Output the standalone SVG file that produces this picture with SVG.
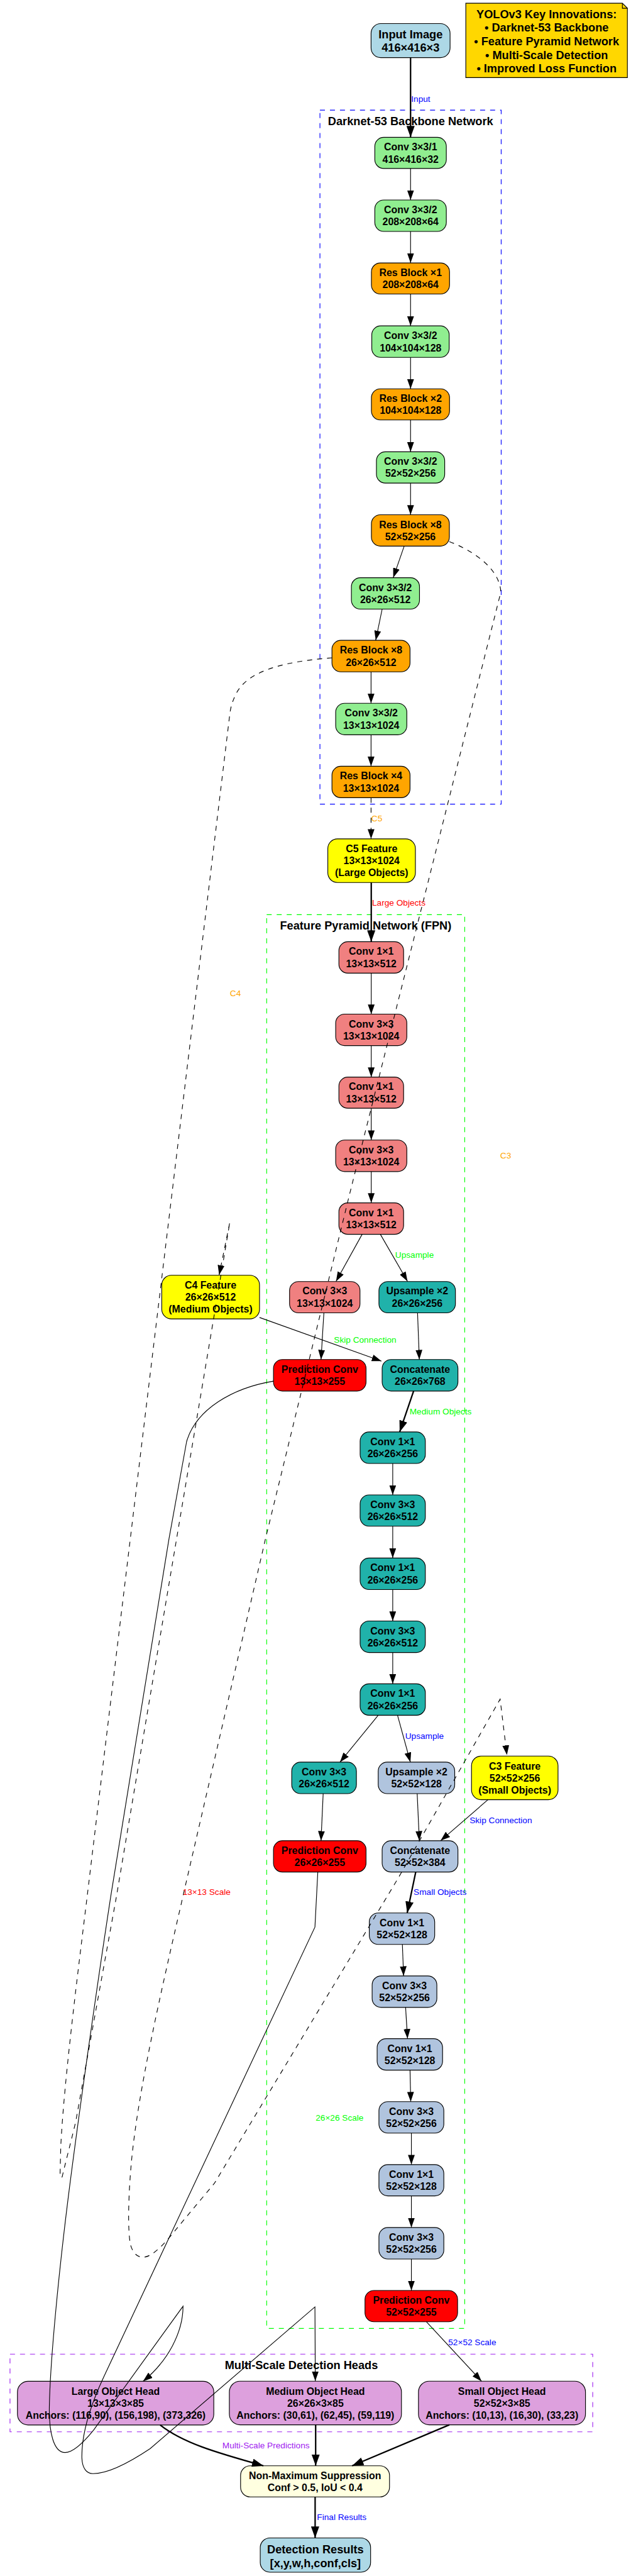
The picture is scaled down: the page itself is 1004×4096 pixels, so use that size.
<svg xmlns="http://www.w3.org/2000/svg" width="1004" height="4096" viewBox="0 0 1004 4096">
<style>
.n{stroke:#000;stroke-width:2}
.t{font-family:"Liberation Sans",Arial,sans-serif;font-weight:bold;font-size:28px;text-anchor:middle;fill:#000}
.tl{font-size:32px}
.e{fill:none;stroke:#000;stroke-width:2}
.eb{stroke-width:4}
.ed{stroke-dasharray:14 14}
.l{font-family:"Liberation Sans",Arial,sans-serif;font-size:24px;text-anchor:middle}
.cl{fill:none;stroke-width:2;stroke-dasharray:14 14}
.green{fill:#90EE90}.orange{fill:#FFA500}.yellow{fill:#FFFF00}.coral{fill:#F08080}.teal{fill:#20B2AA}.steel{fill:#B0C4DE}.red{fill:#FF0000}.plum{fill:#DDA0DD}.lblue{fill:#ADD8E6}
</style>
<defs>
<marker id="a" viewBox="0 0 27 19" refX="27" refY="9.5" markerWidth="27" markerHeight="19" markerUnits="userSpaceOnUse" orient="auto"><path d="M0,0 L27,9.5 L0,19 z" fill="#000"/></marker>
<marker id="ab" viewBox="0 0 32 23" refX="32" refY="11.5" markerWidth="32" markerHeight="23" markerUnits="userSpaceOnUse" orient="auto"><path d="M0,0 L32,11.5 L0,23 z" fill="#000"/></marker>
</defs>
<rect width="1004" height="4096" fill="#fff"/>
<g transform="scale(0.5688)">
<g id="clusters">
<rect class="cl" x="895" y="308" width="507" height="1940" stroke="#0000FF"/>
<text class="t tl" x="1148.5" y="349">Darknet-53 Backbone Network</text>
<rect class="cl" x="746" y="2557" width="554" height="3952" stroke="#00FF00"/>
<text class="t tl" x="1023" y="2598">Feature Pyramid Network (FPN)</text>
<rect class="cl" x="28" y="6581" width="1630" height="217" stroke="#A020F0"/>
<text class="t tl" x="843" y="6622">Multi-Scale Detection Heads</text>
</g>
<g id="note">
<path class="n" d="M1303,9 L1741,9 L1755,23 L1755,217 L1303,217 Z" fill="#FFD700"/>
<path class="n" d="M1741,9 L1741,23 L1755,23" fill="none"/>
<text class="t tl"><tspan x="1529" y="51.5">YOLOv3 Key Innovations:</tspan><tspan x="1529" y="88.5">• Darknet-53 Backbone</tspan><tspan x="1529" y="126.5">• Feature Pyramid Network</tspan><tspan x="1529" y="164.5">• Multi-Scale Detection</tspan><tspan x="1529" y="201.5">• Improved Loss Function</tspan></text>
</g>
<g id="input"><rect class="n lblue" x="1038" y="66" width="221" height="95" rx="27"/><text class="t tl"><tspan x="1148.5" y="108">Input Image</tspan><tspan x="1148.5" y="145">416×416×3</tspan></text></g>
<g id="conv1"><rect class="n green" x="1048.5" y="384" width="200" height="87" rx="25"/><text class="t"><tspan x="1148.5" y="420.5">Conv 3×3/1</tspan><tspan x="1148.5" y="454.5">416×416×32</tspan></text></g>
<g id="conv2"><rect class="n green" x="1048.5" y="559" width="200" height="88" rx="25"/><text class="t"><tspan x="1148.5" y="596">Conv 3×3/2</tspan><tspan x="1148.5" y="630">208×208×64</tspan></text></g>
<g id="res1"><rect class="n orange" x="1039" y="735" width="218.5" height="87" rx="25"/><text class="t"><tspan x="1148.5" y="771.5">Res Block ×1</tspan><tspan x="1148.5" y="805.5">208×208×64</tspan></text></g>
<g id="conv3"><rect class="n green" x="1040" y="911" width="216.5" height="88" rx="25"/><text class="t"><tspan x="1148.5" y="948">Conv 3×3/2</tspan><tspan x="1148.5" y="982">104×104×128</tspan></text></g>
<g id="res2"><rect class="n orange" x="1039" y="1087" width="218.5" height="87" rx="25"/><text class="t"><tspan x="1148.5" y="1123.5">Res Block ×2</tspan><tspan x="1148.5" y="1157.5">104×104×128</tspan></text></g>
<g id="conv4"><rect class="n green" x="1053" y="1263" width="191" height="87.5" rx="25"/><text class="t"><tspan x="1148.5" y="1299.5">Conv 3×3/2</tspan><tspan x="1148.5" y="1333.5">52×52×256</tspan></text></g>
<g id="res8a"><rect class="n orange" x="1039" y="1439" width="218" height="87.6" rx="25"/><text class="t"><tspan x="1148" y="1476">Res Block ×8</tspan><tspan x="1148" y="1510">52×52×256</tspan></text></g>
<g id="conv5"><rect class="n green" x="983" y="1615" width="190.5" height="87.7" rx="25"/><text class="t"><tspan x="1078" y="1652">Conv 3×3/2</tspan><tspan x="1078" y="1686">26×26×512</tspan></text></g>
<g id="res8b"><rect class="n orange" x="928.6" y="1790" width="218.4" height="88" rx="25"/><text class="t"><tspan x="1038" y="1827">Res Block ×8</tspan><tspan x="1038" y="1861">26×26×512</tspan></text></g>
<g id="conv6"><rect class="n green" x="939" y="1966" width="199" height="88" rx="25"/><text class="t"><tspan x="1038.5" y="2003">Conv 3×3/2</tspan><tspan x="1038.5" y="2037">13×13×1024</tspan></text></g>
<g id="res4"><rect class="n orange" x="928.6" y="2142" width="218.4" height="88" rx="25"/><text class="t"><tspan x="1038" y="2179">Res Block ×4</tspan><tspan x="1038" y="2213">13×13×1024</tspan></text></g>
<g id="c5"><rect class="n yellow" x="917" y="2345" width="245" height="122" rx="27"/><text class="t"><tspan x="1039.5" y="2382.5">C5 Feature</tspan><tspan x="1039.5" y="2416">13×13×1024</tspan><tspan x="1039.5" y="2449.5">(Large Objects)</tspan></text></g>
<g id="f1"><rect class="n coral" x="948" y="2632.5" width="181" height="88" rx="25"/><text class="t"><tspan x="1038.5" y="2669.5">Conv 1×1</tspan><tspan x="1038.5" y="2703.5">13×13×512</tspan></text></g>
<g id="f2"><rect class="n coral" x="939" y="2835" width="199" height="88" rx="25"/><text class="t"><tspan x="1038.5" y="2872">Conv 3×3</tspan><tspan x="1038.5" y="2906">13×13×1024</tspan></text></g>
<g id="f3"><rect class="n coral" x="948" y="3011" width="181" height="87" rx="25"/><text class="t"><tspan x="1038.5" y="3047.5">Conv 1×1</tspan><tspan x="1038.5" y="3081.5">13×13×512</tspan></text></g>
<g id="f4"><rect class="n coral" x="939" y="3187" width="199" height="88" rx="25"/><text class="t"><tspan x="1038.5" y="3224">Conv 3×3</tspan><tspan x="1038.5" y="3258">13×13×1024</tspan></text></g>
<g id="f5"><rect class="n coral" x="948" y="3362.5" width="181" height="88" rx="25"/><text class="t"><tspan x="1038.5" y="3399.5">Conv 1×1</tspan><tspan x="1038.5" y="3433.5">13×13×512</tspan></text></g>
<g id="f6"><rect class="n coral" x="810" y="3582.5" width="197" height="87.5" rx="25"/><text class="t"><tspan x="908.5" y="3619">Conv 3×3</tspan><tspan x="908.5" y="3653">13×13×1024</tspan></text></g>
<g id="up26"><rect class="n teal" x="1060" y="3582.5" width="214" height="87.5" rx="25"/><text class="t"><tspan x="1167" y="3619">Upsample ×2</tspan><tspan x="1167" y="3653">26×26×256</tspan></text></g>
<g id="c4"><rect class="n yellow" x="452.5" y="3565" width="273.5" height="122" rx="27"/><text class="t"><tspan x="589" y="3602.5">C4 Feature</tspan><tspan x="589" y="3636">26×26×512</tspan><tspan x="589" y="3669.5">(Medium Objects)</tspan></text></g>
<g id="pred13"><rect class="n red" x="765" y="3800.6" width="259" height="88" rx="25"/><text class="t"><tspan x="894.5" y="3837.6">Prediction Conv</tspan><tspan x="894.5" y="3871.6">13×13×255</tspan></text></g>
<g id="cat26"><rect class="n teal" x="1069" y="3800.6" width="212" height="88" rx="25"/><text class="t"><tspan x="1175" y="3837.6">Concatenate</tspan><tspan x="1175" y="3871.6">26×26×768</tspan></text></g>
<g id="m1"><rect class="n teal" x="1007.4" y="4003" width="182.4" height="88" rx="25"/><text class="t"><tspan x="1098.6" y="4040">Conv 1×1</tspan><tspan x="1098.6" y="4074">26×26×256</tspan></text></g>
<g id="m2"><rect class="n teal" x="1007.4" y="4179" width="182.4" height="87.5" rx="25"/><text class="t"><tspan x="1098.6" y="4215.7">Conv 3×3</tspan><tspan x="1098.6" y="4249.7">26×26×512</tspan></text></g>
<g id="m3"><rect class="n teal" x="1007.4" y="4355.5" width="182.4" height="88" rx="25"/><text class="t"><tspan x="1098.6" y="4392.5">Conv 1×1</tspan><tspan x="1098.6" y="4426.5">26×26×256</tspan></text></g>
<g id="m4"><rect class="n teal" x="1007.4" y="4531.5" width="182.4" height="88" rx="25"/><text class="t"><tspan x="1098.6" y="4568.5">Conv 3×3</tspan><tspan x="1098.6" y="4602.5">26×26×512</tspan></text></g>
<g id="m5"><rect class="n teal" x="1007.4" y="4707" width="182.4" height="88" rx="25"/><text class="t"><tspan x="1098.6" y="4744">Conv 1×1</tspan><tspan x="1098.6" y="4778">26×26×256</tspan></text></g>
<g id="m6"><rect class="n teal" x="816" y="4926" width="181" height="88" rx="25"/><text class="t"><tspan x="906.5" y="4963">Conv 3×3</tspan><tspan x="906.5" y="4997">26×26×512</tspan></text></g>
<g id="up52"><rect class="n steel" x="1058" y="4926" width="214" height="88" rx="25"/><text class="t"><tspan x="1165" y="4963">Upsample ×2</tspan><tspan x="1165" y="4997">52×52×128</tspan></text></g>
<g id="c3"><rect class="n yellow" x="1319" y="4909" width="242" height="122" rx="27"/><text class="t"><tspan x="1440" y="4946.5">C3 Feature</tspan><tspan x="1440" y="4980">52×52×256</tspan><tspan x="1440" y="5013.5">(Small Objects)</tspan></text></g>
<g id="pred26"><rect class="n red" x="765" y="5145.7" width="259" height="87.5" rx="25"/><text class="t"><tspan x="894.5" y="5182.5">Prediction Conv</tspan><tspan x="894.5" y="5216.5">26×26×255</tspan></text></g>
<g id="cat52"><rect class="n steel" x="1069" y="5145.7" width="212" height="87.5" rx="25"/><text class="t"><tspan x="1175" y="5182.5">Concatenate</tspan><tspan x="1175" y="5216.5">52×52×384</tspan></text></g>
<g id="s1"><rect class="n steel" x="1033" y="5347.6" width="183" height="88" rx="25"/><text class="t"><tspan x="1124.5" y="5384.6">Conv 1×1</tspan><tspan x="1124.5" y="5418.6">52×52×128</tspan></text></g>
<g id="s2"><rect class="n steel" x="1041" y="5523.6" width="181" height="88" rx="25"/><text class="t"><tspan x="1131.5" y="5560.6">Conv 3×3</tspan><tspan x="1131.5" y="5594.6">52×52×256</tspan></text></g>
<g id="s3"><rect class="n steel" x="1055" y="5699" width="183" height="88" rx="25"/><text class="t"><tspan x="1146.5" y="5736">Conv 1×1</tspan><tspan x="1146.5" y="5770">52×52×128</tspan></text></g>
<g id="s4"><rect class="n steel" x="1060" y="5875" width="181.5" height="88" rx="25"/><text class="t"><tspan x="1150.75" y="5912">Conv 3×3</tspan><tspan x="1150.75" y="5946">52×52×256</tspan></text></g>
<g id="s5"><rect class="n steel" x="1060" y="6051" width="181.5" height="87.5" rx="25"/><text class="t"><tspan x="1150.75" y="6087.7">Conv 1×1</tspan><tspan x="1150.75" y="6121.7">52×52×128</tspan></text></g>
<g id="s6"><rect class="n steel" x="1060" y="6227" width="181.5" height="88" rx="25"/><text class="t"><tspan x="1150.75" y="6264">Conv 3×3</tspan><tspan x="1150.75" y="6298">52×52×256</tspan></text></g>
<g id="pred52"><rect class="n red" x="1021" y="6403" width="259" height="87.5" rx="25"/><text class="t"><tspan x="1150.5" y="6439.7">Prediction Conv</tspan><tspan x="1150.5" y="6473.7">52×52×255</tspan></text></g>
<g id="large"><rect class="n plum" x="48.8" y="6656.7" width="549.2" height="122.3" rx="30"/><text class="t"><tspan x="323.4" y="6694.5">Large Object Head</tspan><tspan x="323.4" y="6728">13×13×3×85</tspan><tspan x="323.4" y="6761.5">Anchors: (116,90), (156,198), (373,326)</tspan></text></g>
<g id="medium"><rect class="n plum" x="641.6" y="6656.6" width="481.4" height="122" rx="30"/><text class="t"><tspan x="882.3" y="6694.5">Medium Object Head</tspan><tspan x="882.3" y="6728">26×26×3×85</tspan><tspan x="882.3" y="6761.5">Anchors: (30,61), (62,45), (59,119)</tspan></text></g>
<g id="small"><rect class="n plum" x="1170.6" y="6656.6" width="467.2" height="122" rx="30"/><text class="t"><tspan x="1404.2" y="6694.5">Small Object Head</tspan><tspan x="1404.2" y="6728">52×52×3×85</tspan><tspan x="1404.2" y="6761.5">Anchors: (10,13), (16,30), (33,23)</tspan></text></g>
<g id="nms"><rect class="n" fill="#FFFFE0" x="673" y="6893" width="416.6" height="87" rx="27"/><text class="t"><tspan x="881.3" y="6930.7">Non-Maximum Suppression</tspan><tspan x="881.3" y="6964.5">Conf &gt; 0.5, IoU &lt; 0.4</tspan></text></g>
<g id="results"><rect class="n lblue" x="728" y="7094.8" width="308.7" height="95.7" rx="27"/><text class="t tl"><tspan x="882.3" y="7137.5">Detection Results</tspan><tspan x="882.3" y="7176">[x,y,w,h,conf,cls]</tspan></text></g>
<g id="connectors">
<path class="e eb" marker-end="url(#ab)" d="M1148.5,161 L1148.5,384"/>
<path class="e" marker-end="url(#a)" d="M1148.5,471 L1148.5,559"/>
<path class="e" marker-end="url(#a)" d="M1148.5,647 L1148.5,735"/>
<path class="e" marker-end="url(#a)" d="M1148.5,822 L1148.5,911"/>
<path class="e" marker-end="url(#a)" d="M1148.5,999 L1148.5,1087"/>
<path class="e" marker-end="url(#a)" d="M1148.5,1174 L1148.5,1263"/>
<path class="e" marker-end="url(#a)" d="M1148.5,1350.5 L1148.5,1439"/>
<path class="e" marker-end="url(#a)" d="M1130.6,1526.6 L1100,1615"/>
<path class="e" marker-end="url(#a)" d="M1069,1702.7 L1051,1790"/>
<path class="e" marker-end="url(#a)" d="M1038,1878 L1038,1966"/>
<path class="e" marker-end="url(#a)" d="M1038,2054 L1038,2142"/>
<path class="e ed" marker-end="url(#a)" d="M1038,2230 L1038,2345"/>
<path class="e ed" marker-end="url(#a)" d="M929,1839 C780,1850 690,1880 660,1940 C648,1965 645,1980 643,1995 L250,5250 C225,5460 180,5800 170,6000 L168,6080 Q170,6092 174,6085 C182,6050 198,5990 212,5930 L326,5300 L643,3416 L613,3564"/>
<path class="e ed" marker-end="url(#a)" d="M1257,1514 C1325,1540 1398,1590 1401,1655 L1214,2400 L975,3350 L743,4300 L512,5300 C450,5570 385,5850 367,6050 C360,6130 356,6230 365,6275 C372,6300 385,6310 400,6310 C430,6310 470,6260 500,6223 L600,6103 L1114,5250 L1399,4750 L1418,4906"/>
<path class="e eb" marker-end="url(#ab)" d="M1038.5,2467 L1038.5,2632.5"/>
<path class="e" marker-end="url(#a)" d="M1038.5,2720.5 L1038.5,2835"/>
<path class="e" marker-end="url(#a)" d="M1038.5,2923 L1038.5,3011"/>
<path class="e" marker-end="url(#a)" d="M1038.5,3098 L1038.5,3187"/>
<path class="e" marker-end="url(#a)" d="M1038.5,3275 L1038.5,3362.5"/>
<path class="e" marker-end="url(#a)" d="M1013,3450.5 L940,3582"/>
<path class="e" marker-end="url(#a)" d="M1064,3450.5 L1140,3582"/>
<path class="e" marker-end="url(#a)" d="M906,3670 L898,3800.6"/>
<path class="e" marker-end="url(#a)" d="M1168,3670 L1173,3800.6"/>
<path class="e" marker-end="url(#a)" d="M726,3683 L1067,3805"/>
<path class="e eb" marker-end="url(#ab)" d="M1157,3888.6 L1118,4003"/>
<path class="e" marker-end="url(#a)" d="M1098.6,4091 L1098.6,4179"/>
<path class="e" marker-end="url(#a)" d="M1098.6,4266.5 L1098.6,4355.5"/>
<path class="e" marker-end="url(#a)" d="M1098.6,4443.5 L1098.6,4531.5"/>
<path class="e" marker-end="url(#a)" d="M1098.6,4619.5 L1098.6,4707"/>
<path class="e" marker-end="url(#a)" d="M1058,4795 L951,4926"/>
<path class="e" marker-end="url(#a)" d="M1112,4795 L1148,4926"/>
<path class="e" marker-end="url(#a)" d="M904,5014 L898,5145.7"/>
<path class="e" marker-end="url(#a)" d="M1167,5014 L1173,5145.7"/>
<path class="e" marker-end="url(#a)" d="M1365,5031 L1232.5,5145.7"/>
<path class="e eb" marker-end="url(#ab)" d="M1163,5233 L1139,5347.6"/>
<path class="e" marker-end="url(#a)" d="M1125.6,5435.6 L1129,5523.6"/>
<path class="e" marker-end="url(#a)" d="M1134.6,5611.6 L1140,5699"/>
<path class="e" marker-end="url(#a)" d="M1147,5787 L1149,5875"/>
<path class="e" marker-end="url(#a)" d="M1150.75,5963 L1150.75,6051"/>
<path class="e" marker-end="url(#a)" d="M1150.75,6138.5 L1150.75,6227"/>
<path class="e" marker-end="url(#a)" d="M1150.75,6315 L1150.75,6403"/>
<path class="e" marker-end="url(#a)" d="M1193,6490.5 L1347,6656.6"/>
<path class="e" marker-end="url(#a)" d="M765,3861 C650,3880 548,3940 522,4030 L473,4300 L310,5300 C270,5560 215,5950 190,6150 C165,6350 140,6600 138,6730 C137,6800 150,6856 182,6856 C205,6856 232,6830 262,6793 L512,6447 C512,6520 470,6600 400,6657"/>
<path class="e" marker-end="url(#a)" d="M889,5233 L881,5387 L290,6645 C255,6720 228,6800 229,6870 C230,6900 242,6915 260,6915 C300,6915 360,6885 420,6845 L881,6449 L882,6656"/>
<path class="e eb" marker-end="url(#ab)" d="M448,6779 C510,6828 600,6855 737,6893"/>
<path class="e eb" marker-end="url(#ab)" d="M883,6778.6 L883,6893"/>
<path class="e eb" marker-end="url(#ab)" d="M1257,6778.6 L985,6893"/>
<path class="e eb" marker-end="url(#ab)" d="M881.5,6980 L881.5,7094.8"/>
</g>
<g id="edge-labels">
<text class="l" x="1177" y="284.5" fill="#0000FF">Input</text>
<text class="l" x="1054" y="2296.5" fill="#FFA500">C5</text>
<text class="l" x="1115.5" y="2532.5" fill="#FF0000">Large Objects</text>
<text class="l" x="658.5" y="2785.5" fill="#FFA500">C4</text>
<text class="l" x="1414.5" y="3238.5" fill="#FFA500">C3</text>
<text class="l" x="1159.5" y="3517" fill="#00FF00">Upsample</text>
<text class="l" x="1021.5" y="3753" fill="#00FF00">Skip Connection</text>
<text class="l" x="1232.5" y="3954.5" fill="#00FF00">Medium Objects</text>
<text class="l" x="1187.5" y="4860.5" fill="#0000FF">Upsample</text>
<text class="l" x="1401" y="5096.5" fill="#0000FF">Skip Connection</text>
<text class="l" x="1231" y="5297" fill="#0000FF">Small Objects</text>
<text class="l" x="578" y="5297" fill="#FF0000">13×13 Scale</text>
<text class="l" x="950" y="5928" fill="#00FF00">26×26 Scale</text>
<text class="l" x="1321" y="6556" fill="#0000FF">52×52 Scale</text>
<text class="l" x="744" y="6844.5" fill="#A020F0">Multi-Scale Predictions</text>
<text class="l" x="956" y="7045.5" fill="#0000FF">Final Results</text>
</g>
</g>
</svg>
